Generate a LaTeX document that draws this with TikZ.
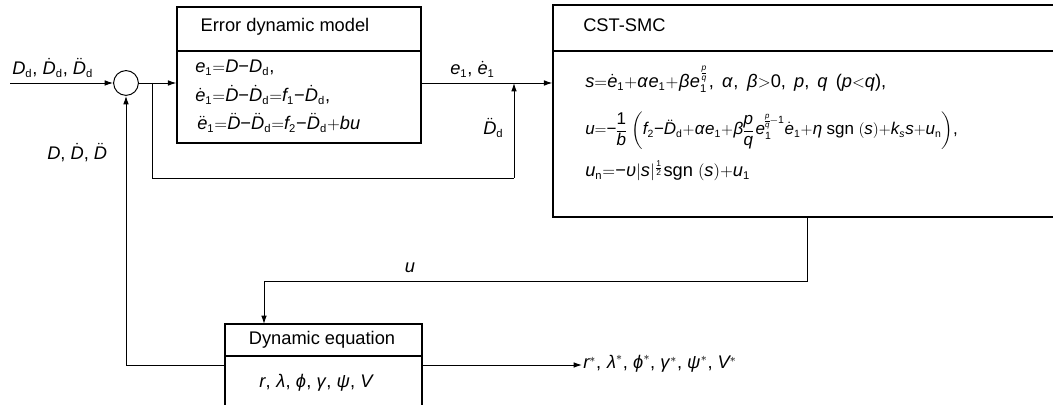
\documentclass[tikz,border=0pt]{standalone}
\usepackage{amsmath}
\usepackage{mathspec}
\setmainfont{Liberation Sans}
\setmathsfont(Digits,Latin,Greek){Liberation Sans}
\usetikzlibrary{arrows.meta, positioning}
\tikzset{>={Latex[length=6pt,width=4pt]}}
\DeclareMathSizes{13}{13}{8}{6}
\newcommand{\mn}{{\text{−}}}

\begin{document}
\begin{tikzpicture}[x=0.025cm, y=-0.025cm, font=\fontsize{13}{15}\selectfont,
    blk/.style={draw, line width=0.8pt, inner sep=0pt},
    ln/.style={line width=0.7pt},
    txt/.style={anchor=base west, inner sep=0pt}]
	\clip (0,0) rectangle (1053,405);

	% blocks
	\node[circle, draw, ln, minimum size=0.62cm, inner sep=0pt] (sum) at (126,83) {};
	\node[blk, minimum width=6.1cm, minimum height=3.4cm] (err) at (299,75) {};
	\node[blk, minimum width=12.675cm, minimum height=5.3cm] (cst) at (806.5,111) {};
	\node[blk, minimum width=4.925cm, minimum height=2.05cm] (dyn) at (323.5,365) {};
	\draw[line width=0.8pt] (err.west |- 0,51) -- (err.east |- 0,51);
	\draw[line width=0.8pt] (cst.west |- 0,51) -- (cst.east |- 0,51);
	\draw[line width=0.8pt] (dyn.west |- 0,356) -- (dyn.east |- 0,356);

	% error dynamic model
	\node (errtitle) at (285,27) {Error dynamic model};
	\node[txt] (erreqa) at (195,73) {$e_1{=}D\mn D_{\text{d}}$,};
	\node[txt] (erreqb) at (195,102) {$\dot e_1{=}\dot D\mn\dot D_{\text{d}}{=}f_1\mn\dot D_{\text{d}}$,};
	\node[txt] (erreqc) at (197,130) {$\ddot e_1{=}\ddot D\mn\ddot D_{\text{d}}{=}f_2\mn\ddot D_{\text{d}}{+}bu$};

	% controller
	\node[txt] (csttitle) at (583,32) {CST-SMC};
	\node[txt] (csteqa) at (585,88) {$s{=}\dot e_1{+}\alpha e_1{+}\beta e_1^{\frac{p}{q}}$,\, $\alpha$,\, $\beta{>}0$,\, $p$,\, $q$\, ($p{<}q$),};
	\node[txt, scale=0.93] (csteqb) at (585,135) {\nulldelimiterspace=0pt$u{=}\mn\dfrac{1}{b}\,\left(f_2\mn\ddot D_{\text{d}}{+}\alpha e_1{+}\beta\dfrac{p}{q}\,e_1^{\frac{p}{q}-1}\dot e_1{+}\eta\;\text{sgn}\;(s){+}k_s s{+}u_{\text{n}}\right)$,};
	\node[txt] (csteqc) at (585,177) {$u_{\text{n}}{=}\mn\upsilon|s|^{\frac{1}{2}}\text{sgn}\ (s){+}u_1$};

	% dynamic equation
	\node[anchor=base, inner sep=0pt] (dyntitle) at (322,345) {Dynamic equation};
	\node[anchor=base, inner sep=0pt] (dynvars) at (316,388) {$r$, $\lambda$, $\varphi$, $\gamma$, $\psi$, $V$};

	% signal lines
	\coordinate (din) at (10,83);
	\coordinate (br) at (152,83);
	\coordinate (fbk) at (514,178);
	\coordinate (uout) at (807,281);
	\coordinate (uin) at (264,324);
	\coordinate (yout) at (582,365);

	\draw[ln,->] (din) -- (sum);
	\draw[ln,->] (sum) -- (sum -| err.west);
	\draw[ln] (br) |- (fbk);
	\draw[ln,->] (fbk) -- (fbk |- sum);
	\draw[ln,->] (sum -| err.east) -- (sum -| cst.west);
	\draw[ln,->] (uout |- cst.south) -- (uout) -| (uin);
	\draw[ln,->] (dyn.west) -| (sum);
	\draw[ln,->] (dyn.east) -- (yout);

	% labels
	\node[txt] (lbldd) at (12,75) {$D_{\text{d}}$, $\dot D_{\text{d}}$, $\ddot D_{\text{d}}$};
	\node[txt] (lbld) at (47,160) {$D$, $\dot D$, $\ddot D$};
	\node[txt] (lble) at (450,75) {$e_1$, $\dot e_1$};
	\node[txt] (lblddd) at (483,135) {$\ddot D_{\text{d}}$};
	\node[anchor=base, inner sep=0pt] (lblu) at (410,273) {$u$};
	\node[txt] (lbly) at (583,369) {$r^*$, $\lambda^*$, $\varphi^*$, $\gamma^*$, $\psi^*$, $V^*$};
\end{tikzpicture}
\end{document}
